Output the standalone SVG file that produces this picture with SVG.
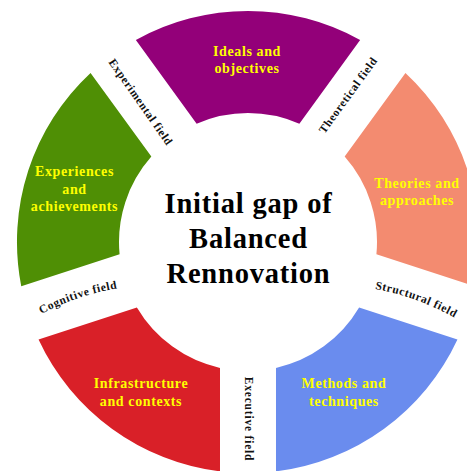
<svg xmlns="http://www.w3.org/2000/svg" width="467" height="471" viewBox="0 0 467 471">
  <defs>
    <path id="arcCog" d="M34,318 A250,250 0 0 1 126,287"/>
    <path id="arcStr" d="M369,288 A250,250 0 0 1 460,321"/>
  </defs>
  <style>
    .seg-label { font-family: "Liberation Serif", "Times New Roman", serif; font-weight: bold; font-size: 14px; fill: #FFFF00; text-anchor: middle; letter-spacing: 0.6px; }
    .field { font-family: "Liberation Serif", "Times New Roman", serif; font-weight: bold; font-size: 11.5px; fill: #111111; text-anchor: middle; letter-spacing: 0.6px; }
    .title { font-family: "Liberation Serif", "Times New Roman", serif; font-weight: bold; font-size: 28.5px; fill: #000000; text-anchor: middle; letter-spacing: 0.8px; }
  </style>
  <rect x="0" y="0" width="467" height="471" fill="#FFFFFF"/>

  <g id="ideals">
    <path d="M135.86,40.01 A231,231 0 0 1 360.14,40.01 L299.37,123.67 A129,129 0 0 0 196.63,123.67 Z" fill="#930079"/>
    <text class="seg-label" x="247" y="56">Ideals and</text>
    <text class="seg-label" x="247" y="72.5">objectives</text>
  </g>

  <g id="theories">
    <path d="M135.86,40.01 A231,231 0 0 1 360.14,40.01 L299.37,123.67 A129,129 0 0 0 196.63,123.67 Z" fill="#F38B70" transform="rotate(72 248 242)"/>
    <text class="seg-label" x="417" y="188">Theories and</text>
    <text class="seg-label" x="417" y="205">approaches</text>
  </g>

  <g id="methods">
    <path d="M135.86,40.01 A231,231 0 0 1 360.14,40.01 L299.37,123.67 A129,129 0 0 0 196.63,123.67 Z" fill="#6A8CEE" transform="rotate(144 248 242)"/>
    <text class="seg-label" x="344" y="388">Methods and</text>
    <text class="seg-label" x="344" y="406">techniques</text>
  </g>

  <g id="infrastructure">
    <path d="M135.86,40.01 A231,231 0 0 1 360.14,40.01 L299.37,123.67 A129,129 0 0 0 196.63,123.67 Z" fill="#D92028" transform="rotate(216 248 242)"/>
    <text class="seg-label" x="141" y="388">Infrastructure</text>
    <text class="seg-label" x="141" y="406">and contexts</text>
  </g>

  <g id="experiences">
    <path d="M135.86,40.01 A231,231 0 0 1 360.14,40.01 L299.37,123.67 A129,129 0 0 0 196.63,123.67 Z" fill="#4F8F05" transform="rotate(288 248 242)"/>
    <text class="seg-label" x="74.5" y="176">Experiences</text>
    <text class="seg-label" x="74.5" y="193.5">and</text>
    <text class="seg-label" x="74.5" y="211">achievements</text>
  </g>

  <g id="center">
    <text class="title" x="248.5" y="213">Initial gap of</text>
    <text class="title" x="248.5" y="248">Balanced</text>
    <text class="title" x="248.5" y="283">Rennovation</text>
  </g>

  <g id="connectors">
    <text class="field" x="137.7" y="104.3" transform="rotate(55 137.7 104.3)">Experimental field</text>
    <text class="field" x="351.2" y="97.4" transform="rotate(-54 351.2 97.4)">Theoretical field</text>
    <text class="field"><textPath href="#arcCog" startOffset="50%">Cognitive field</textPath></text>
    <text class="field"><textPath href="#arcStr" startOffset="50%">Structural field</textPath></text>
    <text class="field" x="245" y="419" transform="rotate(90 245 419)" style="letter-spacing:0.8px">Executive field</text>
  </g>
</svg>
